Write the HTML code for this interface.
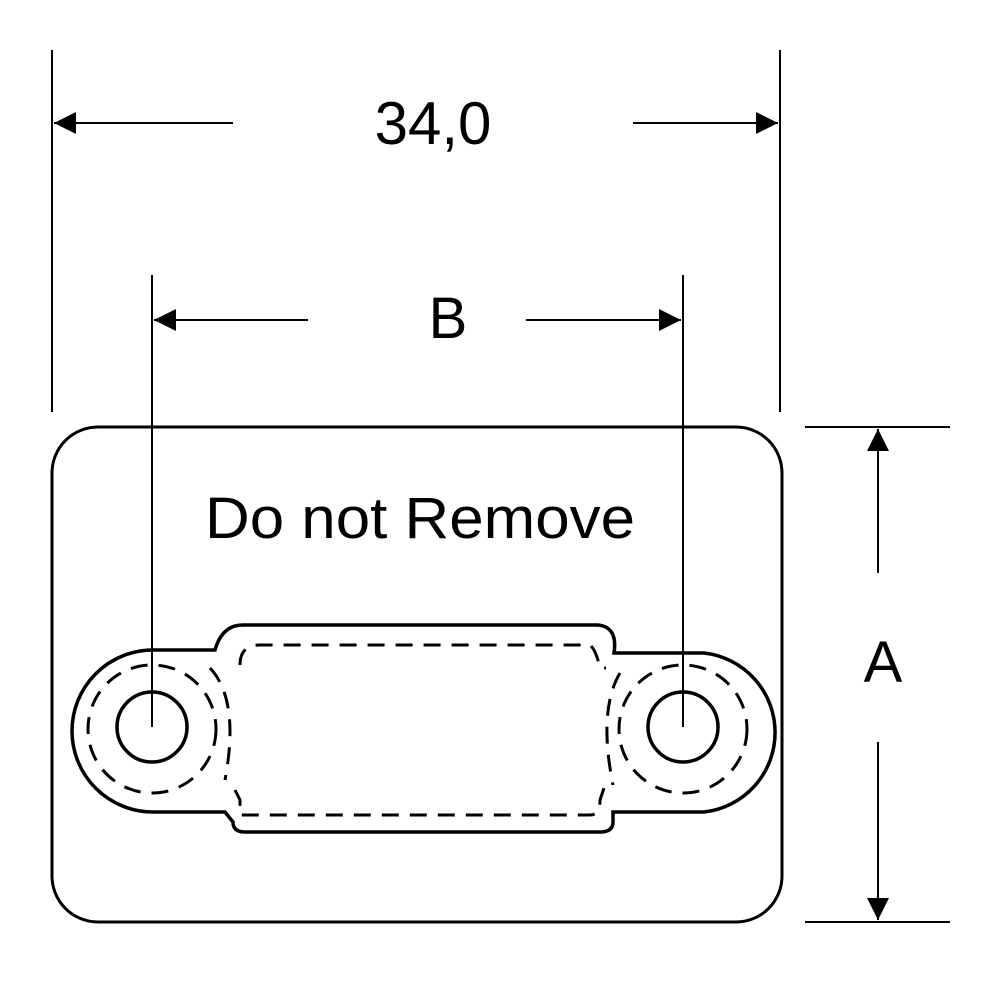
<!DOCTYPE html>
<html><head><style>body{margin:0;background:#fff}svg{display:block}</style></head><body>
<svg width="1000" height="1000" viewBox="0 0 1000 1000" xmlns="http://www.w3.org/2000/svg">
<defs><marker id="a" viewBox="0 0 10 10" refX="10" refY="5" markerWidth="48" markerHeight="22" markerUnits="userSpaceOnUse" orient="auto"><path d="M0,0L10,5L0,10z" fill="#000"/></marker></defs>
<g stroke="#000" fill="none" stroke-width="2">
<line x1="52" y1="50" x2="52" y2="412"/><line x1="780" y1="50" x2="780" y2="412"/>
<line x1="233" y1="123" x2="54" y2="123" marker-end="url(#a)"/>
<line x1="633" y1="123" x2="778" y2="123" marker-end="url(#a)"/>
<line x1="152" y1="275" x2="152" y2="727"/><line x1="683" y1="275" x2="683" y2="727"/>
<line x1="308" y1="320" x2="154" y2="320" marker-end="url(#a)"/>
<line x1="526" y1="320" x2="681" y2="320" marker-end="url(#a)"/>
<line x1="805" y1="427" x2="950" y2="427"/><line x1="805" y1="922" x2="950" y2="922"/>
<line x1="878" y1="573" x2="878" y2="429" marker-end="url(#a)"/>
<line x1="878" y1="742" x2="878" y2="920" marker-end="url(#a)"/>
<rect x="52" y="427" width="730" height="495" rx="46" stroke-width="3"/>
<path stroke-width="3.5" d="M153,650 L215,650 Q222,625 243,625 L598,625 Q618,627 614,653 L704,653 A80,80 0 0 1 704,812 L613,812 L613,822 Q613,832 600,832 L245,832 Q233,832 233,822 L225,812 L153,812 A81,81 0 0 1 153,650 Z"/>
<circle cx="152" cy="727" r="35" stroke-width="3.5"/><circle cx="683" cy="727" r="35" stroke-width="3.5"/>
<g stroke-width="3" stroke-dasharray="17,11">
<path d="M240,665 Q240,645 260,645 L590,645 Q596,650 600,668 L606,668"/>
<path d="M235,790 L240,800 L240,815 L590,815 Q600,815 600,800 L605,785 L610,785"/>
<circle cx="152" cy="729" r="64"/><circle cx="683" cy="729" r="64"/>
<path d="M210,668 Q240,700 225,780"/>
<path d="M620,673 Q598,710 613,785"/>
</g>
</g>
<g font-family="Liberation Sans, sans-serif" fill="#000" text-anchor="middle">
<text x="433" y="144" font-size="60">34,0</text>
<text x="448" y="338" font-size="58">B</text>
<text x="883" y="682" font-size="58">A</text>
<text x="420" y="538" font-size="58" textLength="430" lengthAdjust="spacingAndGlyphs">Do not Remove</text>
</g>
</svg>
</body></html>
